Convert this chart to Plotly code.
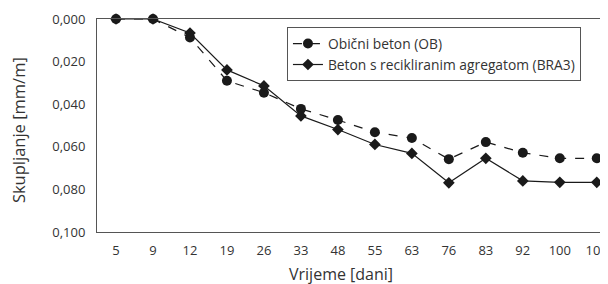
import plotly.graph_objects as go

days = ["5", "9", "12", "19", "26", "33", "48", "55", "63", "76", "83", "92", "100", "107"]
ob = [0.0, 0.0, 0.0087, 0.0290, 0.0346, 0.0422, 0.0474, 0.0532, 0.0559, 0.0658, 0.0578, 0.0628, 0.0654, 0.0654]
bra3 = [0.0, 0.0, 0.0066, 0.0239, 0.0314, 0.0455, 0.0519, 0.0589, 0.0631, 0.0769, 0.0654, 0.0760, 0.0767, 0.0767]
y_ticks = [0.0, 0.02, 0.04, 0.06, 0.08, 0.1]
y_labels = ["0,000", "0,020", "0,040", "0,060", "0,080", "0,100"]
x_title = "Vrijeme [dani]"
y_title = "Skupljanje [mm/m]"

FONT = "Open Sans"
ink = "#1a1a1a"

fig = go.Figure()
fig.add_trace(go.Scatter(
    x=days, y=ob, name="Obični beton (OB)", mode="lines+markers",
    line=dict(color=ink, width=1.2, dash="dash"),
    marker=dict(symbol="circle", size=10, color=ink),
    cliponaxis=False,
))
fig.add_trace(go.Scatter(
    x=days, y=bra3, name="Beton s recikliranim agregatom (BRA3)", mode="lines+markers",
    line=dict(color=ink, width=1.2),
    marker=dict(symbol="diamond", size=9, color=ink),
    cliponaxis=False,
))

fig.update_layout(
    width=608, height=284,
    margin=dict(l=89, r=0, t=11, b=60, autoexpand=False),
    paper_bgcolor="white", plot_bgcolor="white",
    font=dict(family=FONT, size=13, color="#333"),
    legend=dict(
        x=0.366, y=0.962, xanchor="left", yanchor="top",
        bordercolor="#555", borderwidth=1, bgcolor="white",
        font=dict(size=13.8, color="#333"),
    ),
    xaxis=dict(
        type="category", range=[-0.514, 13.52], automargin=False,
        showline=True, linecolor="#555", linewidth=1, mirror=True,
        showgrid=False, ticks="", ticklen=0, ticklabelstandoff=6,
        tickfont=dict(size=13, color="#333"),
    ),
    yaxis=dict(
        range=[0.1, 0.0], tickvals=y_ticks, ticktext=y_labels, automargin=False,
        showline=True, linecolor="#555", linewidth=1,
        showgrid=False, zeroline=False, ticks="", ticklabelstandoff=8,
        tickfont=dict(size=13, color="#333"),
    ),
    annotations=[
        dict(text=x_title, xref="paper", yref="paper", x=0.470, y=-0.197,
             xanchor="center", yanchor="middle", showarrow=False,
             font=dict(size=16, color="#333")),
        dict(text=y_title, xref="paper", yref="paper", x=-0.150, y=0.479,
             xanchor="center", yanchor="middle", showarrow=False, textangle=-90,
             font=dict(size=16.5, color="#333")),
    ],
)

fig.write_html("out.html")
